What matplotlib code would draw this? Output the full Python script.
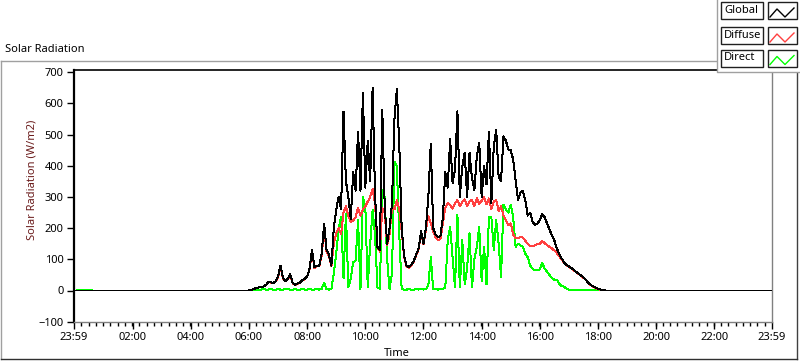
import numpy as np
import matplotlib
matplotlib.use("Agg")
from matplotlib import pyplot
from matplotlib.patches import Rectangle
from matplotlib.lines import Line2D

W, H = 800, 361  # 出力サイズ(px)

# ---- データ ----
series_names = ["Global", "Diffuse", "Direct"]
series_colors = ["#000000", "#ff4040", "#00ff00"]

# 夜間 (00:00 前後) の値
night_am_minutes = [-1, 5, 6, 36, 37, 359]
night_am_global = [0, 0, 0, 0, 0, 0]
night_am_diffuse = [0, 0, 0, 0, 0, 0]
night_am_direct = [0, 0, 3, 3, 0, 0]

# 日中 06:00 から 5 分刻み
day_start = 360
day_step = 5
day_global = [
    0, 2, 5, 8, 10, 12, 13, 18, 28, 27,
    24, 30, 45, 80, 40, 30, 38, 52, 25, 18,
    22, 25, 33, 38, 45, 70, 130, 75, 80, 80,
    118, 215, 130, 115, 80, 200, 260, 300, 260, 573,
    350, 300, 230, 380, 320, 510, 320, 635, 330, 480,
    350, 650, 310, 140, 130, 580, 270, 150, 200, 280,
    548, 645, 470, 200, 110, 80, 75, 82, 95, 115,
    135, 190, 150, 200, 300, 470, 200, 180, 170, 175,
    235, 380, 330, 485, 345, 387, 575, 300, 398, 441,
    300, 441, 360, 322, 430, 474, 300, 398, 340, 510,
    280, 462, 516, 366, 350, 495, 480, 452, 450, 420,
    355, 290, 315, 320, 290, 240, 250, 220, 210, 215,
    225, 245, 235, 215, 195, 177, 160, 135, 118, 103,
    90, 82, 77, 72, 66, 60, 54, 48, 42, 35,
    24, 18, 13, 9, 6, 3, 1, 0, 0, 0, 0,
]
day_diffuse = [
    0, 2, 5, 8, 10, 12, 13, 18, 27, 26,
    23, 29, 43, 76, 38, 29, 36, 50, 24, 17,
    21, 24, 32, 37, 44, 68, 125, 72, 78, 78,
    112, 200, 125, 110, 78, 150, 185, 200, 180, 250,
    270, 240, 220, 225, 235, 265, 240, 260, 270, 285,
    300, 325, 280, 140, 125, 265, 250, 145, 180, 265,
    260, 290, 260, 190, 108, 78, 73, 80, 93, 113,
    132, 185, 148, 195, 240, 215, 190, 170, 162, 165,
    215, 265, 280, 275, 262, 280, 290, 270, 284, 292,
    272, 286, 290, 270, 296, 278, 288, 300, 276, 295,
    260, 285, 290, 255, 270, 240, 225, 210, 215, 180,
    168, 168, 172, 170, 160, 150, 142, 142, 145, 150,
    150, 158, 152, 145, 140, 135, 128, 120, 110, 100,
    88, 80, 76, 71, 65, 59, 53, 47, 41, 34,
    23, 17, 12, 8, 5, 2, 1, 0, 0, 0, 0,
]
day_direct = [
    0, 3, 3, 3, 3, 3, 4, 3, 3, 4,
    3, 3, 4, 3, 3, 4, 4, 3, 3, 4,
    3, 3, 4, 3, 3, 4, 3, 3, 4, 3,
    5, 25, 4, 3, 5, 54, 118, 200, 236, 40,
    247, 10, 40, 90, 97, 226, 5, 300, 269, 10,
    150, 258, 180, 10, 5, 322, 300, 100, 5, 54,
    413, 398, 183, 5, 3, 3, 4, 3, 3, 4,
    3, 5, 3, 4, 16, 107, 5, 4, 3, 4,
    5, 10, 161, 204, 107, 10, 242, 10, 161, 20,
    70, 183, 10, 100, 140, 204, 30, 140, 20, 236,
    236, 130, 226, 150, 43, 274, 260, 250, 274, 236,
    140, 150, 145, 140, 118, 107, 80, 70, 65, 65,
    68, 88, 70, 60, 50, 40, 34, 35, 22, 14,
    12, 6, 3, 3, 3, 3, 3, 3, 3, 3,
    3, 3, 3, 3, 3, 0, 0, 0, 0, 0, 0,
]

# 夜間 (18:30 以降)
night_pm_minutes = [1439]
night_pm_global = [0]
night_pm_diffuse = [0]
night_pm_direct = [0]

# 軸目盛り
x_tick_minutes = [-1, 120, 240, 360, 480, 600, 720, 840, 960, 1080, 1200, 1320, 1439]
x_tick_labels = ["23:59", "02:00", "04:00", "06:00", "08:00", "10:00", "12:00",
                 "14:00", "16:00", "18:00", "20:00", "22:00", "23:59"]
y_ticks = [-100, 0, 100, 200, 300, 400, 500, 600, 700]


def px_rect(x, y, w, h, **kw):
    """ピクセル座標(左上原点)で矩形を作る"""
    return Rectangle((x / W, 1 - (y + h) / H), w / W, h / H,
                     transform=fig.transFigure, **kw)


def px_line(xs, ys, **kw):
    """ピクセル座標(左上原点)で線を作る"""
    return Line2D([x / W for x in xs], [1 - y / H for y in ys],
                  transform=fig.transFigure, **kw)


pyplot.rcParams["font.family"] = ["Noto Sans", "DejaVu Sans"]

day_minutes = day_start + day_step * np.arange(len(day_global))
minutes = np.concatenate([night_am_minutes, day_minutes, night_pm_minutes])
values = {
    "Global": np.concatenate([night_am_global, day_global, night_pm_global]),
    "Diffuse": np.concatenate([night_am_diffuse, day_diffuse, night_pm_diffuse]),
    "Direct": np.concatenate([night_am_direct, day_direct, night_pm_direct]),
}

fig = pyplot.figure(figsize=(W / 100, H / 100), dpi=100)
fig.patch.set_facecolor("white")

ax = fig.add_axes([74 / W, 1 - 322 / H, (772 - 74) / W, (322 - 70) / H])

# 描画順: Direct -> Diffuse -> Global (黒が最前面)
for name, z in (("Direct", 2), ("Diffuse", 3), ("Global", 4)):
    color = series_colors[series_names.index(name)]
    ax.plot(minutes, values[name], color=color, lw=0.72, zorder=z,
            antialiased=False)

ax.set_xlim(-1, 1439)
ax.set_ylim(-101, 707)
ax.set_xticks(x_tick_minutes)
ax.set_xticklabels(x_tick_labels)
ax.set_xticks([m for m in range(14, 1439, 15) if m not in x_tick_minutes],
              minor=True)
ax.set_yticks(y_ticks)

ax.tick_params(axis="both", which="major", direction="out", length=5,
               width=1, labelsize=8, pad=2.5, colors="black")
ax.tick_params(axis="x", which="minor", direction="out", length=3, width=1)

# 3D風の枠: 上/左は黒、下/右はグレー
ax.spines["left"].set_color("black")
ax.spines["left"].set_linewidth(1.6)
ax.spines["top"].set_color("black")
ax.spines["top"].set_linewidth(1.2)
ax.spines["bottom"].set_color("#808080")
ax.spines["right"].set_color("#808080")
ax.spines["bottom"].set_linewidth(1.0)
ax.spines["right"].set_linewidth(1.0)

# ラベル類
fig.text(5 / W, 1 - 50 / H, "Solar Radiation", fontsize=8, ha="left", va="center")
fig.text(32 / W, 1 - 180 / H, "Solar Radiation (W/m2)", fontsize=8,
         rotation=90, ha="center", va="center", color="#6b1c1c")
fig.text(397 / W, 1 - 354 / H, "Time", fontsize=8, ha="center", va="center")

# 外枠
fig.add_artist(px_line([1, 1], [61, 359], color="#a0a0a0", lw=1))
fig.add_artist(px_line([1, 717], [61, 61], color="#a0a0a0", lw=1))
fig.add_artist(px_line([797, 797], [72, 359], color="#404040", lw=1))
fig.add_artist(px_line([1, 797], [359, 359], color="#303030", lw=1))

# 凡例パネル
fig.add_artist(px_rect(717, 0, 83, 72, facecolor="white", edgecolor="none", zorder=5))
fig.add_artist(px_line([717, 717, 800], [0, 72, 72], color="#a0a0a0", lw=1, zorder=6))
row_tops = [2, 27, 49.5]
for name, color, top in zip(series_names, series_colors, row_tops):
    fig.add_artist(px_rect(721, top, 42, 17, facecolor="white",
                           edgecolor="#202020", lw=1, zorder=6))
    fig.text(724 / W, 1 - (top + 8.5) / H, name, fontsize=8,
             ha="left", va="center", zorder=7)
    fig.add_artist(px_rect(768, top, 29, 17, facecolor="white",
                           edgecolor="#202020", lw=1, zorder=6))
    fig.add_artist(px_line([770, 777, 785, 794],
                           [top + 15, top + 7, top + 15, top + 6],
                           color=color, lw=1, zorder=7))

fig.savefig("out.png", dpi=100)
pyplot.close(fig)
